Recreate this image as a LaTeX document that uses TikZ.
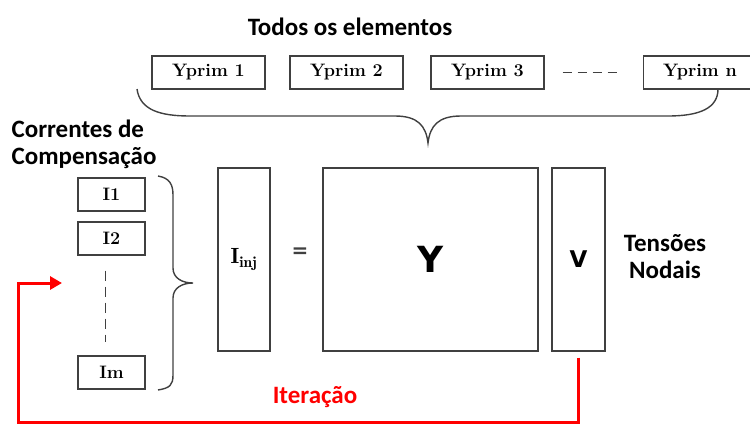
\documentclass[tikz,border=0pt]{standalone}
\usepackage{fontspec}
\setsansfont{Carlito}
\newfontfamily\headfont{DejaVu Sans}
\usepackage{xcolor}
\usetikzlibrary{arrows.meta}
\definecolor{linegray}{HTML}{404040}
\definecolor{loopred}{HTML}{FF0000}
\tikzstyle{prim} = [style=draw, draw=linegray, line width=1.4pt,
	inner sep=0pt,
	minimum width = 113pt,
	minimum height = 33pt,
	font=\fontsize{18}{20}\selectfont\bfseries]
\tikzstyle{cur} = [prim, minimum width = 67pt]
\tikzstyle{column} = [style=draw, draw=linegray, line width=1.4pt,
	inner sep=0pt,
	minimum width = 52pt,
	minimum height = 183pt]
\tikzstyle{label} = [font=\sffamily\bfseries\fontsize{25}{27}\selectfont, align=center]
\tikzstyle{brace} = [draw=linegray, line width=1.4pt]
\tikzstyle{loop} = [-{Triangle[length=12pt, width=13pt]}, draw=loopred, line width=3pt]

\begin{document}
\begin{tikzpicture}[x=1pt, y=-1pt]
	\useasboundingbox (0,0) rectangle (750,440);
	\node (title)[label] at (350,27) {Todos os elementos};
	
	\node (prim1)[prim] at (208.5,72.5) {Yprim 1};
	\node (prim2)[prim] at (346.5,72.5) {Yprim 2};
	\node (prim3)[prim] at (487.5,72.5) {Yprim 3};
	\node (primn)[prim] at (700,72.5) {Yprim n};
	\draw [draw=linegray, line width=1.6pt, dash pattern=on 9pt off 6pt]
		([xshift=18pt]prim3.east) -- ([xshift=-24pt]primn.west);
	
	% big brace under the elements
	\draw [brace] (137,89) .. controls (140,110) and (160,116) .. (190,116)
		-- (395,116) .. controls (418,116) and (426,126) .. (428,143)
		.. controls (430,126) and (438,116) .. (461,116)
		-- (668,116) .. controls (700,116) and (718,108) .. (718,89);
	
	\node (comp)[label, align=left] at (84,144) {Correntes de\\Compensação};
	
	\node (i1)[cur] at (111.5,194.5) {I1};
	\node (i2)[cur] at (111.5,238.5) {I2};
	\node (im)[cur] at (111.5,372.5) {Im};
	\draw [draw=linegray, line width=1.4pt, dash pattern=on 10pt off 6pt]
		([xshift=-6pt, yshift=-15pt]i2.south) -- ([xshift=-6pt, yshift=13pt]im.north);
	
	% brace beside the currents
	\draw [brace] (158,176) .. controls (170,178) and (173,185) .. (173,195)
		-- (173,268) .. controls (173,278) and (182,283) .. (193,283)
		.. controls (182,283) and (173,288) .. (173,298)
		-- (173,375) .. controls (173,385) and (170,388) .. (158,390);
	
	\node (inj)[column] at (244,259.5) {\fontsize{22}{24}\selectfont$\mathbf{I}_{\mathbf{inj}}$};
	\node (eq) at (300,253) {\headfont\bfseries\fontsize{20}{22}\selectfont\color{linegray}=};
	\node (ybus)[column, minimum width = 215pt] at (430.5,259.5) {\headfont\bfseries\fontsize{36}{38}\selectfont Y};
	\node (volt)[column, minimum width = 53pt] at (578.5,259.5) {\headfont\bfseries\fontsize{23}{25}\selectfont V};
	\node (nodal)[label] at (665,257) {Tensões\\Nodais};
	
	\coordinate (back) at (62,283);
	\draw [loop] ([yshift=-6pt]volt.south) |- (18,422) |- (back);
	\node (iter)[label, text=loopred] at (315,397) {Iteração};
\end{tikzpicture}
\end{document}
